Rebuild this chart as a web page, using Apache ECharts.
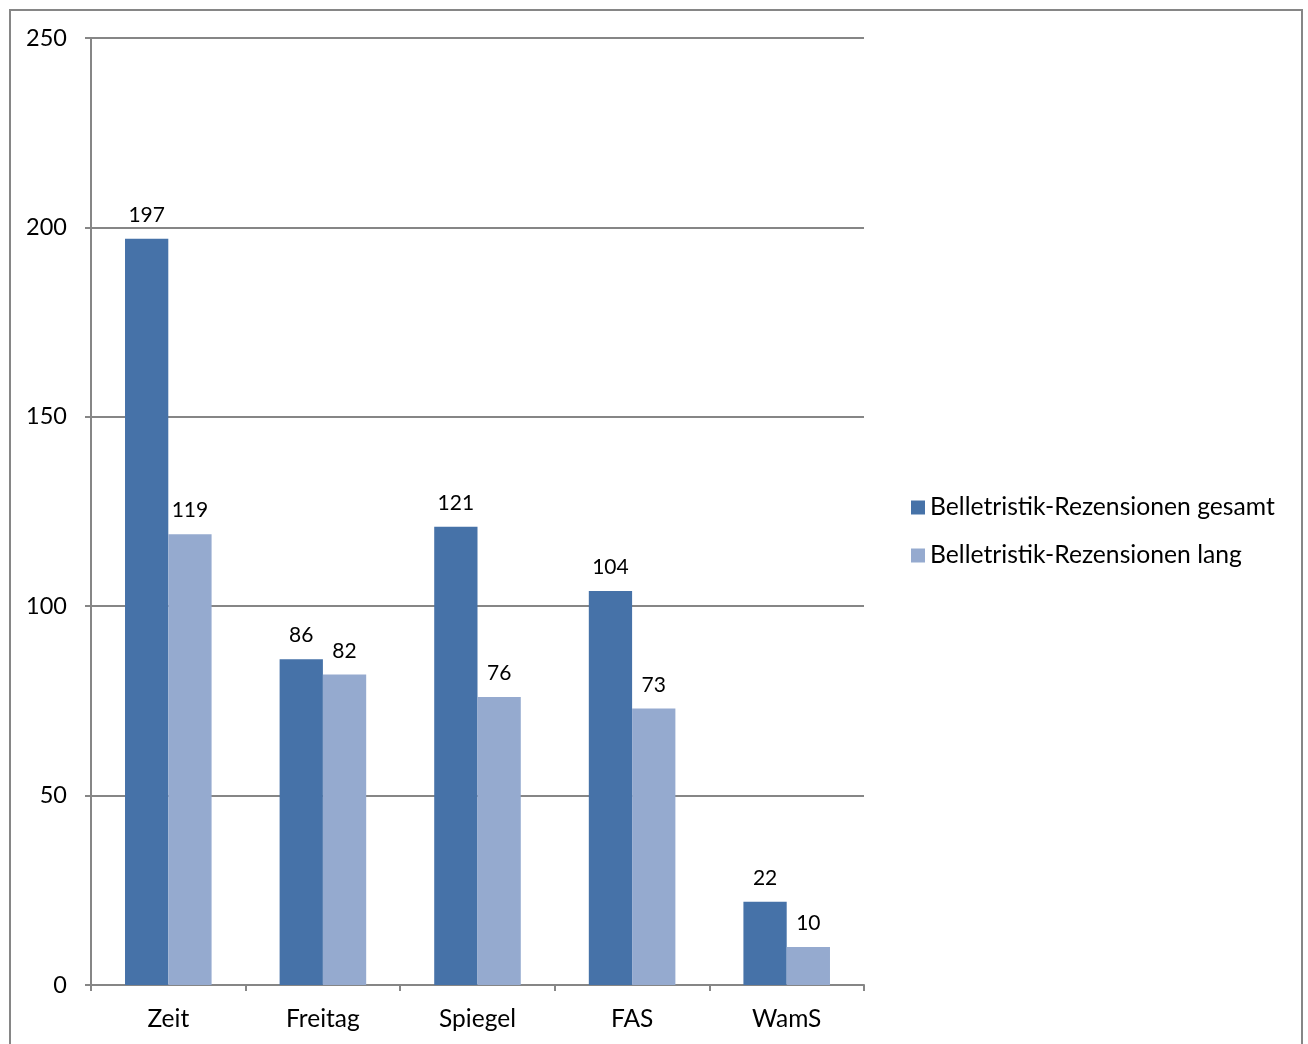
<!DOCTYPE html>
<html><head><meta charset="utf-8">
<script src="https://cdn.jsdelivr.net/npm/echarts@6/dist/echarts.min.js"></script>
<style>
html,body{margin:0;padding:0;background:#fff;}
#c{position:absolute;left:0;top:0;width:1308px;height:1044px;}
#frame{position:absolute;left:9px;top:9px;width:1290px;height:1100px;border:2px solid #868686;pointer-events:none;}
</style></head>
<body>
<div id="c"></div>
<div id="frame"></div>
<script>
const categories = ['Zeit', 'Freitag', 'Spiegel', 'FAS', 'WamS'];
const seriesNames = ['Belletristik-Rezensionen gesamt', 'Belletristik-Rezensionen lang'];
const gesamt = [197, 86, 121, 104, 22];
const lang = [119, 82, 76, 73, 10];
const colors = ['#4672A8', '#95AACF'];
const font = "Lato, 'Open Sans', sans-serif";

const chart = echarts.init(document.getElementById('c'));
const labelCfg = {show: true, position: 'top', distance: 13, color: '#000', fontSize: 21, fontFamily: font};
chart.setOption({
  animation: false,
  backgroundColor: '#fff',
  grid: {left: 91, right: 444, top: 38, bottom: 59},
  legend: {
    orient: 'vertical', left: 906, top: 490,
    itemWidth: 14, itemHeight: 14, itemGap: 23,
    icon: 'rect',
    textStyle: {fontSize: 24.7, fontFamily: font, color: '#000'},
    data: seriesNames
  },
  xAxis: {
    type: 'category', data: categories,
    axisLine: {lineStyle: {color: '#868686', width: 2}},
    axisTick: {show: true, length: 6, lineStyle: {color: '#868686', width: 2}},
    axisLabel: {color: '#000', fontSize: 24.5, fontFamily: font, margin: 22}
  },
  yAxis: {
    type: 'value', min: 0, max: 250, interval: 50,
    axisLine: {show: true, lineStyle: {color: '#868686', width: 2}},
    axisTick: {show: true, length: 6, lineStyle: {color: '#868686', width: 2}},
    splitLine: {lineStyle: {color: '#868686', width: 2}},
    axisLabel: {color: '#000', fontSize: 23.5, fontFamily: font, margin: 24}
  },
  series: [
    {name: seriesNames[0], type: 'bar', data: gesamt, itemStyle: {color: colors[0]}, barGap: '0%', barCategoryGap: '44%', label: labelCfg},
    {name: seriesNames[1], type: 'bar', data: lang, itemStyle: {color: colors[1]}, barGap: '0%', barCategoryGap: '44%', label: labelCfg}
  ]
});
</script>
</body></html>
